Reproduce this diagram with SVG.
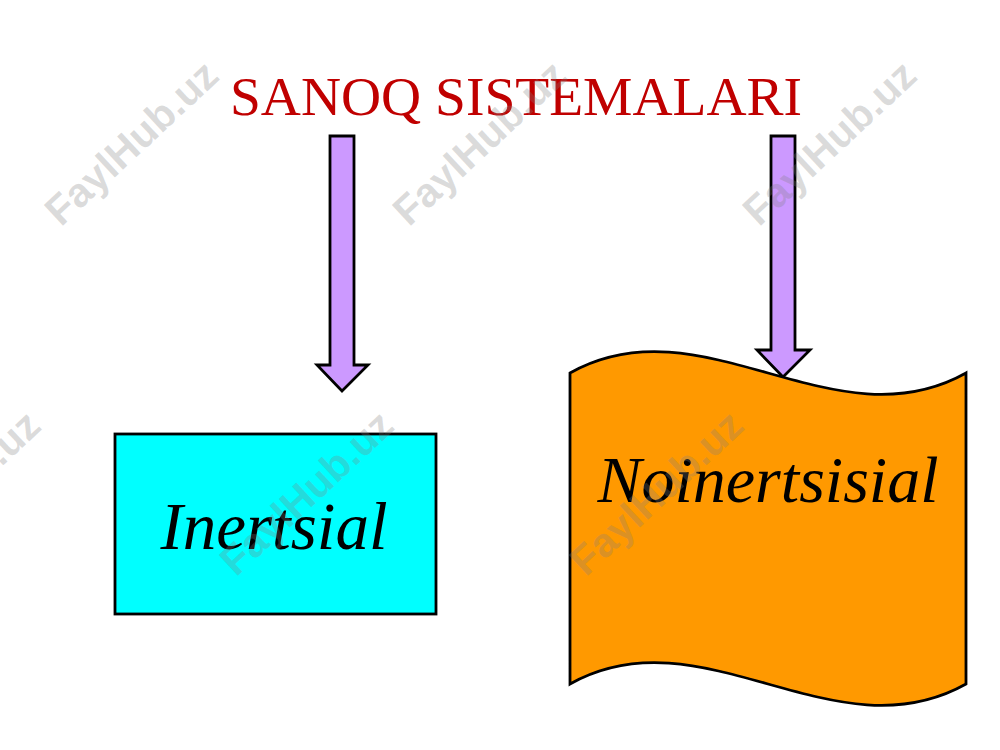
<svg xmlns="http://www.w3.org/2000/svg" width="1000" height="750" viewBox="0 0 1000 750">
<style>
.arrow{fill:#CC99FF;stroke:#000;stroke-width:2.8;stroke-linejoin:miter}
.lbl{font-family:"Liberation Serif","Times New Roman",serif;font-style:italic;fill:#000;text-anchor:middle}
.wm{font-family:"Liberation Sans",Arial,sans-serif;font-weight:bold;font-size:41px;fill:#808080;fill-opacity:0.28;text-anchor:middle}
</style>
<rect width="1000" height="750" fill="#fff"/>
<g id="title">
<text x="516" y="115" font-family="'Liberation Serif','Times New Roman',serif" font-size="55.5" fill="#C00000" text-anchor="middle">SANOQ SISTEMALARI</text>
</g>
<g id="connectors">
<path class="arrow" d="M330,136 H354 V365 H368 L342,391 L317,365 H330 Z"/>
<path class="arrow" d="M771,136 H795 V350 H810 L783,377 L757,350 H771 Z"/>
</g>
<g id="inertsial">
<rect x="115" y="434" width="321" height="180" fill="#00FFFF" stroke="#000" stroke-width="2.8"/>
<text class="lbl" x="274" y="549" font-size="67">Inertsial</text>
</g>
<g id="noinertsisial">
<path d="M570,373 C702,299 834,447 966,373 V684 C834,758 702,610 570,684 Z" fill="#FF9900" stroke="#000" stroke-width="2.8"/>
<text class="lbl" x="768" y="502" font-size="66">Noinertsisial</text>
</g>
<g id="watermarks">
<text class="wm" transform="translate(141,153) rotate(-43)">FaylHub.uz</text>
<text class="wm" transform="translate(489,153) rotate(-43)">FaylHub.uz</text>
<text class="wm" transform="translate(839,153) rotate(-43)">FaylHub.uz</text>
<text class="wm" transform="translate(-37,503) rotate(-43)">FaylHub.uz</text>
<text class="wm" transform="translate(316,503) rotate(-43)">FaylHub.uz</text>
<text class="wm" transform="translate(666,503) rotate(-43)">FaylHub.uz</text>
</g>
</svg>
